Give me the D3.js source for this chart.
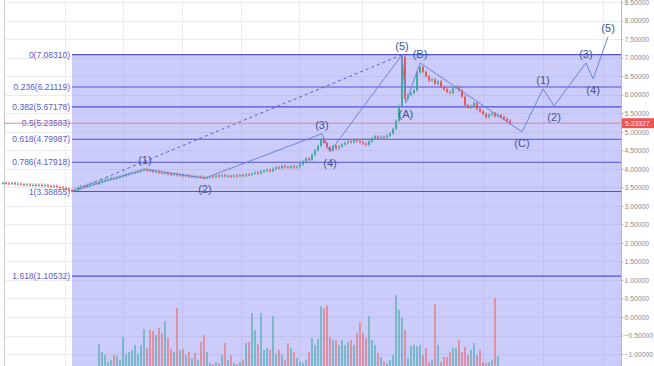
<!DOCTYPE html>
<html><head><meta charset="utf-8">
<script src="https://cdn.jsdelivr.net/npm/d3@7/dist/d3.min.js"></script>
<style>html,body{margin:0;padding:0;background:#fff;overflow:hidden}</style>
</head><body>
<svg id="c" width="654" height="366"></svg>
<script>
// ---------- data ----------
const closes = [
3.62,3.61,3.60,3.62,3.59,3.60,3.58,3.57,3.58,3.56,
3.57,3.56,3.57,3.55,3.56,3.54,3.53,3.54,3.51,3.50,
3.48,3.46,3.43,3.40,3.45,3.50,3.53,3.52,3.57,3.59,
3.62,3.61,3.66,3.69,3.71,3.72,3.75,3.74,3.77,3.80,
3.82,3.85,3.87,3.89,3.91,3.93,3.96,3.99,3.96,3.95,
3.92,3.93,3.90,3.88,3.89,3.86,3.85,3.86,3.83,3.84,
3.81,3.82,3.79,3.80,3.78,3.79,3.77,3.75,3.77,3.79,
3.78,3.82,3.80,3.83,3.80,3.81,3.79,3.82,3.81,3.83,
3.82,3.85,3.84,3.87,3.90,3.88,3.93,3.95,3.97,3.94,
4.00,4.04,4.02,4.08,4.05,4.03,4.07,4.04,4.06,4.12,
4.20,4.28,4.24,4.38,4.50,4.62,4.80,4.70,4.58,4.50,
4.62,4.55,4.60,4.66,4.70,4.74,4.72,4.78,4.75,4.72,
4.68,4.65,4.74,4.82,4.88,4.84,4.86,4.85,4.90,4.96,
5.08,5.30,5.70,7.03,5.90,6.00,6.05,6.12,6.60,6.75,
6.62,6.50,6.38,6.42,6.30,6.36,6.22,6.15,6.08,6.05,
6.18,6.22,6.12,5.95,5.72,5.66,5.70,5.78,5.62,5.55,
5.48,5.40,5.46,5.50,5.42,5.45,5.40,5.35,5.30,5.233
];
const volumes = [
0,0,0,0,0,0,0,0,0,0,
0,0,0,0,0,0,0,0,0,0,
0,0,0,0,0,0,0,0,0,0,
0,0,22,14,11,4,6,11,10,6,
29,12,14,16,21,12,21,37,18,36,
35,31,38,33,45,28,17,14,58,16,
17,11,14,8,13,6,24,31,14,3,
2,4,3,11,23,6,11,3,2,4,
6,23,24,53,36,22,53,16,18,16,
50,12,16,11,6,23,18,14,8,4,
3,6,14,28,21,27,60,58,61,29,
26,26,21,26,21,24,26,21,33,44,
33,28,50,26,21,13,9,5,3,6,
11,71,56,48,36,8,20,21,20,21,
11,18,4,6,62,21,4,9,9,14,
18,18,26,14,19,11,16,23,11,16,
4,3,4,6,68,10,0,0,0,0
];
const lastPrice = 5.23327;
const fibRatios = [0, 0.236, 0.382, 0.5, 0.618, 0.786, 1, 1.618];
const fibValues = [7.08310, 6.21119, 5.67178, 5.23583, 4.79987, 4.17918, 3.38855, 1.10532];
const fibStartIdx = 23;
const priceTicks = [-1,-0.5,0,0.5,1,1.5,2,2.5,3,3.5,4,4.5,5,5.5,6,6.5,7,7.5,8,8.5];
const timeGridIdx = [20.7,40,59.7,79.3,98.7,119.7,140,160,180,200];
// Elliott waves
const impulseIdx = [23, 47.3, 67.3, 106.3, 109, 133];
const impulseVal = [3.38855, 3.99, 3.75, 4.95, 4.46, 7.0831];
const impulseLbl = ["", "(1)", "(2)", "(3)", "(4)", "(5)"];
const corrIdx = [133, 134.3, 139, 173];
const corrVal = [7.0831, 5.78, 6.86, 5.00];
const corrLbl = ["", "(A)", "(B)", "(C)"];
const futureIdx = [173, 180, 183.7, 194.3, 196.7, 201.7];
const futureVal = [5.00, 6.16, 5.70, 6.86, 6.43, 7.57];
const futureLbl = ["", "(1)", "(2)", "(3)", "(4)", "(5)"];

// ---------- scales ----------
const W = 654, H = 366, plotR = 621, plotL = 4;
const x = d3.scaleLinear().domain([0, 169]).range([3, 510]);
const y = d3.scaleLinear().domain([0, 7.0831]).range([317, 54.7]);
const yv = d3.scaleLinear().domain([0, 100]).range([366, 266]);

const svg = d3.select("#c");
const font = "'Liberation Sans', Arial, sans-serif";
svg.append("rect").attr("width", W).attr("height", H).attr("fill", "#fff");

// grid
const g = svg.append("g");
g.selectAll("line.h").data(priceTicks).join("line")
  .attr("x1", plotL).attr("x2", plotR).attr("y1", d => Math.round(y(d)) + 0.5).attr("y2", d => Math.round(y(d)) + 0.5)
  .attr("stroke", "#ebebeb");
g.selectAll("line.v").data(timeGridIdx).join("line")
  .attr("x1", d => Math.round(x(d)) + 0.5).attr("x2", d => Math.round(x(d)) + 0.5).attr("y1", 0).attr("y2", H)
  .attr("stroke", "#ebebeb");
svg.append("line").attr("x1", plotL + 0.5).attr("x2", plotL + 0.5).attr("y1", 0).attr("y2", H).attr("stroke", "#c8c8c8");

// fib fill
const fx0 = x(fibStartIdx);
svg.append("rect").attr("x", fx0).attr("y", y(fibValues[0])).attr("width", plotR - fx0).attr("height", H - y(fibValues[0]))
  .attr("fill", "rgba(128,128,245,0.40)");

// fib lines & labels
fibValues.forEach((v, i) => {
  if (fibRatios[i] !== 0.5) {
    svg.append("line").attr("x1", fx0).attr("x2", plotR).attr("y1", y(v)).attr("y2", y(v))
      .attr("stroke", "#5050d8").attr("stroke-width", 1.2);
  }
  svg.append("text").attr("x", fx0 - 2).attr("y", y(v) + 3).attr("text-anchor", "end")
    .attr("font-family", font).attr("font-size", 8.5).attr("fill", "#5a5ad2")
    .text(`${fibRatios[i]}(${v.toFixed(5)})`);
});

// volume
const opens = closes.map((c, i) => i === 0 ? c : closes[i - 1]);
svg.append("g").selectAll("rect").data(volumes).join("rect")
  .attr("x", (d, i) => x(i) - 1).attr("width", 2)
  .attr("y", d => yv(d)).attr("height", d => yv(0) - yv(d))
  .attr("fill", (d, i) => closes[i] >= opens[i] ? "#26a69a" : "#ef5350")
  .attr("opacity", 0.5);

// fib diagonal dashed
svg.append("line").attr("x1", x(fibStartIdx)).attr("y1", y(fibValues[6])).attr("x2", x(133)).attr("y2", y(fibValues[0]))
  .attr("stroke", "#5a5ad6").attr("stroke-dasharray", "3,3").attr("stroke-width", 1);

// candles
const cg = svg.append("g");
closes.forEach((c, i) => {
  const o = opens[i], up = c >= o;
  const col = up ? "#3aa89a" : "#e8504e";
  const top = y(Math.max(o, c)), bot = y(Math.min(o, c));
  cg.append("line").attr("x1", x(i)).attr("x2", x(i)).attr("y1", top - 1.5).attr("y2", bot + 1.5)
    .attr("stroke", col).attr("stroke-width", 0.8);
  cg.append("rect").attr("x", x(i) - 0.9).attr("width", 1.8).attr("y", top).attr("height", Math.max(1, bot - top)).attr("fill", col);
});

// price line
svg.append("line").attr("x1", plotL).attr("x2", plotR).attr("y1", y(lastPrice)).attr("y2", y(lastPrice))
  .attr("stroke", "#e07a8a").attr("stroke-width", 1).attr("opacity", 0.85);

// waves
const wline = d3.line().x(d => x(d[0])).y(d => y(d[1]));
function wave(idx, val, lbl, below) {
  const pts = idx.map((d, i) => [d, val[i]]);
  svg.append("path").attr("d", wline(pts)).attr("fill", "none").attr("stroke", "#6a86d8").attr("stroke-width", 1);
  pts.forEach((p, i) => {
    if (!lbl[i]) return;
    const b = below(i);
    svg.append("text").attr("x", x(p[0])).attr("y", y(p[1]) + (b ? 15 : -5))
      .attr("text-anchor", "middle").attr("font-family", font).attr("font-size", 11).attr("fill", "#44548c")
      .text(lbl[i]);
  });
}
wave(impulseIdx, impulseVal, impulseLbl, i => i % 2 === 0);
wave(corrIdx, corrVal, corrLbl, i => i !== 2);
wave(futureIdx, futureVal, futureLbl, i => i % 2 === 0);

// right axis
svg.append("rect").attr("x", plotR).attr("y", 0).attr("width", W - plotR).attr("height", H).attr("fill", "#fff");
svg.append("line").attr("x1", plotR + 0.5).attr("x2", plotR + 0.5).attr("y1", 0).attr("y2", H).attr("stroke", "#b8b8b8");
const ax = svg.append("g").attr("transform", `translate(${plotR + 0.5},0)`)
  .call(d3.axisRight(y).tickValues(priceTicks).tickFormat(d3.format(".5f")).tickSize(2).tickPadding(1));
ax.select(".domain").remove();
ax.selectAll("line").attr("stroke", "#b0b0b0");
ax.selectAll("text").attr("font-family", font).attr("font-size", 6.8).attr("fill", "#8a8a8a");
// last price label
svg.append("rect").attr("x", plotR + 1).attr("y", y(lastPrice) - 5).attr("width", 32).attr("height", 10).attr("fill", "#ef5350");
svg.append("text").attr("x", plotR + 4).attr("y", y(lastPrice) + 2.5).attr("font-family", font).attr("font-size", 6.8)
  .attr("fill", "#fff").text(lastPrice.toFixed(5));
</script>
</body></html>
